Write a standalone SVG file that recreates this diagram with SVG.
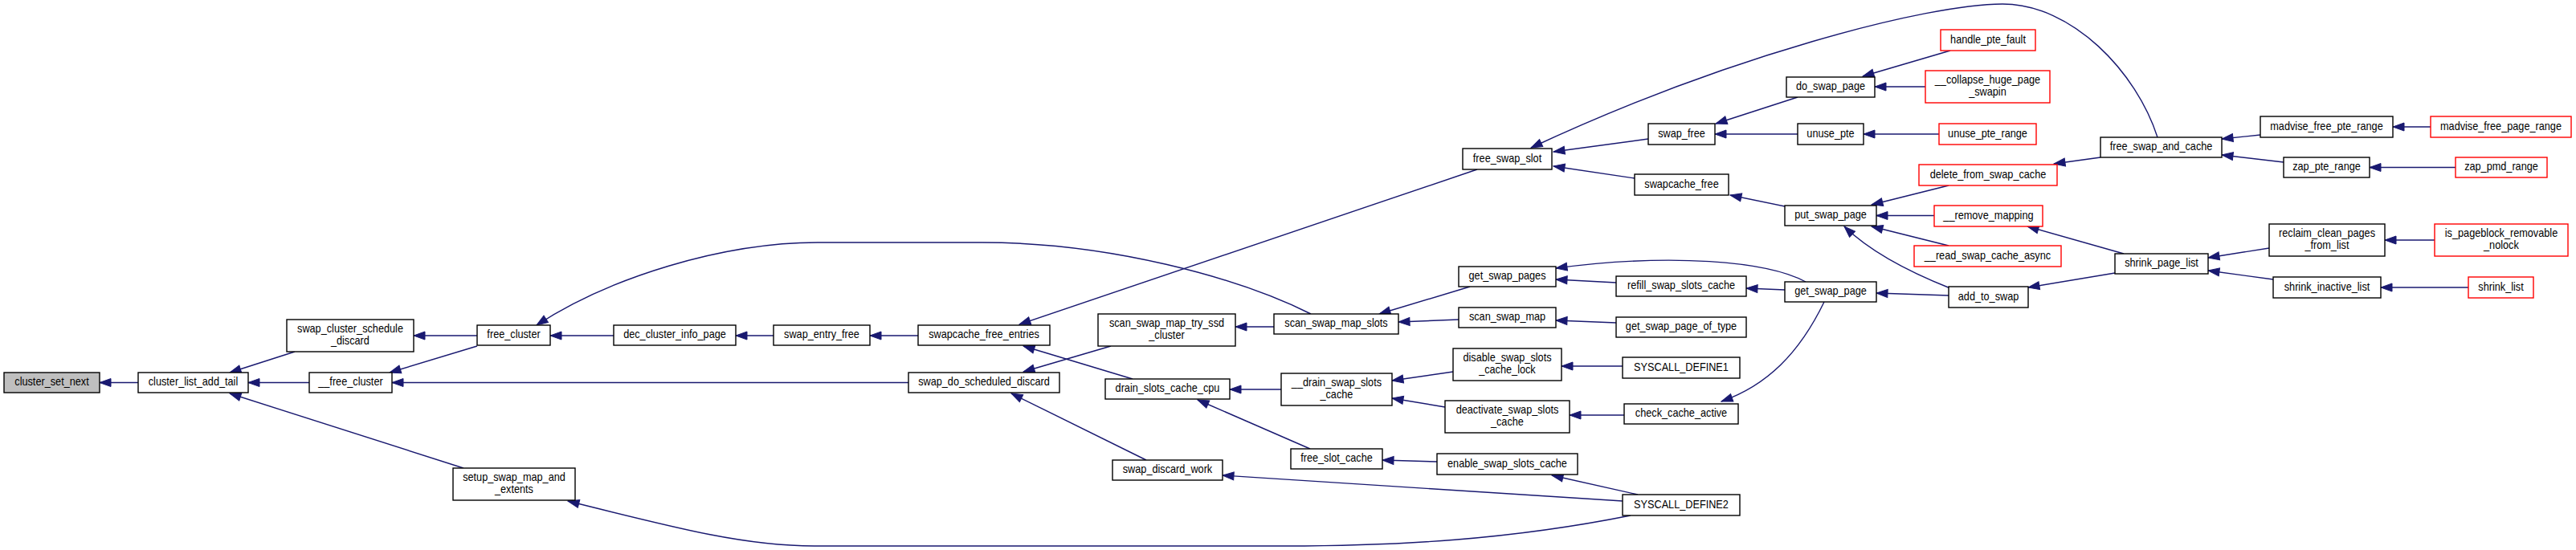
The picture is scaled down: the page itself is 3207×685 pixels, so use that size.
<svg xmlns="http://www.w3.org/2000/svg" width="3207" height="685" viewBox="0 0 3207 685">
<style>
.n rect{fill:#fff;stroke:#000;stroke-width:1.4}
.n.r rect{stroke:#ff0000}
.n.root rect{fill:#bfbfbf}
.n text{font-family:"Liberation Sans",Arial,sans-serif;font-size:14.6px;fill:#000;text-anchor:middle;transform-box:fill-box;transform-origin:center;transform:scaleX(0.87)}
#edges path{fill:none;stroke:#191970;stroke-width:1.4;marker-end:url(#arr)}
</style>
<defs>
<marker id="arr" markerUnits="userSpaceOnUse" markerWidth="15" markerHeight="11" refX="14" refY="5" orient="auto" overflow="visible">
<path d="M0,0 L14,5 L0,10 z" fill="#191970" stroke="#191970" stroke-width="1"/>
</marker>
</defs>
<rect width="3207" height="685" fill="#fff"/>
<g id="edges">
<path d="M172,476.5 L124,476.5"/>
<path d="M367,438 L286,464"/>
<path d="M385,476.5 L309,476.5"/>
<path d="M577,583 L286,490"/>
<path d="M594,418 L515,418"/>
<path d="M594,431 L485,464"/>
<path d="M1131,476.5 L488,476.5"/>
<path d="M764,418 L685,418"/>
<path d="M1632,391 C1540,345 1380,302 1223,302 L1019,302 C900,302 760,345 668,405"/>
<path d="M963,418 L916,418"/>
<path d="M1143,418 L1083,418"/>
<path d="M1839,211 L1269,404"/>
<path d="M1410,472 L1274,431"/>
<path d="M1383,431 L1274,463"/>
<path d="M1427,573 L1259,490"/>
<path d="M2030,642 C1880,672 1740,680 1600,680 L1014,680 C930,680 850,660 707,624"/>
<path d="M1586,407 L1538,407"/>
<path d="M1595,485 L1531,485"/>
<path d="M1631,559 L1491,498"/>
<path d="M2020,624 L1522,592"/>
<path d="M1830,357 L1717,391"/>
<path d="M1816,398 L1741,401"/>
<path d="M1809,463 L1733,474"/>
<path d="M1799,507 L1733,496"/>
<path d="M1789,575 L1721,573"/>
<path d="M2012,352 L1937,348"/>
<path d="M2248,351 C2200,325 2080,315 1937,334"/>
<path d="M2012,402 L1937,399"/>
<path d="M2020,456 L1944,456"/>
<path d="M2022,517 L1954,517"/>
<path d="M2039,616 L1932,592"/>
<path d="M2222,361 L2174,359"/>
<path d="M2271,376 C2240,440 2200,480 2143,500"/>
<path d="M2426,368 L2336,365"/>
<path d="M2052,173 L1934,189"/>
<path d="M2035,222 L1934,207"/>
<path d="M2686,171 C2660,90 2580,5 2493,5 C2400,5 2150,70 1906,184"/>
<path d="M2238,121 L2136,154"/>
<path d="M2238,167 L2135,167"/>
<path d="M2222,257 L2154,243"/>
<path d="M2428,63 L2319,95"/>
<path d="M2397,108 L2334,108"/>
<path d="M2414,167 L2320,167"/>
<path d="M2426,231 L2330,255"/>
<path d="M2408,268.5 L2336,268.5"/>
<path d="M2426,306 L2330,282"/>
<path d="M2428,359 C2380,340 2330,315 2296,282"/>
<path d="M2615,196 L2557,204"/>
<path d="M2814,168 L2766,173"/>
<path d="M2843,202 L2766,193"/>
<path d="M3026,158 L2979,158"/>
<path d="M3057,208.5 L2950,208.5"/>
<path d="M2644,316 L2524,282"/>
<path d="M2633,340 L2525,358"/>
<path d="M2825,309 L2749,321"/>
<path d="M2830,348 L2749,337"/>
<path d="M3031,299 L2969,299"/>
<path d="M3073,358 L2964,358"/>
</g>
<g id="cluster_set_next" class="n root"><rect x="5" y="464" width="119" height="25"/><text x="64.5" y="480.5">cluster_set_next</text></g>
<g id="cluster_list_add_tail" class="n"><rect x="172" y="464" width="137" height="25"/><text x="240.5" y="480.5">cluster_list_add_tail</text></g>
<g id="swap_cluster_schedule_discard" class="n"><rect x="357" y="398" width="158" height="40"/><text x="436" y="414.5">swap_cluster_schedule</text><text x="436" y="429">_discard</text></g>
<g id="__free_cluster" class="n"><rect x="385" y="464" width="103" height="25"/><text x="436.5" y="480.5">__free_cluster</text></g>
<g id="setup_swap_map_and_extents" class="n"><rect x="564" y="583" width="152" height="40"/><text x="640" y="599.5">setup_swap_map_and</text><text x="640" y="614">_extents</text></g>
<g id="free_cluster" class="n"><rect x="594" y="405" width="91" height="25"/><text x="639.5" y="421.5">free_cluster</text></g>
<g id="dec_cluster_info_page" class="n"><rect x="764" y="405" width="152" height="25"/><text x="840" y="421.5">dec_cluster_info_page</text></g>
<g id="swap_entry_free" class="n"><rect x="963" y="405" width="120" height="25"/><text x="1023" y="421.5">swap_entry_free</text></g>
<g id="swapcache_free_entries" class="n"><rect x="1143" y="405" width="164" height="25"/><text x="1225" y="421.5">swapcache_free_entries</text></g>
<g id="swap_do_scheduled_discard" class="n"><rect x="1131" y="464" width="188" height="25"/><text x="1225" y="480.5">swap_do_scheduled_discard</text></g>
<g id="scan_swap_map_try_ssd_cluster" class="n"><rect x="1367" y="391" width="171" height="40"/><text x="1452.5" y="407.5">scan_swap_map_try_ssd</text><text x="1452.5" y="422">_cluster</text></g>
<g id="drain_slots_cache_cpu" class="n"><rect x="1376" y="472" width="155" height="25"/><text x="1453.5" y="488.5">drain_slots_cache_cpu</text></g>
<g id="swap_discard_work" class="n"><rect x="1385" y="573" width="137" height="25"/><text x="1453.5" y="589.5">swap_discard_work</text></g>
<g id="scan_swap_map_slots" class="n"><rect x="1586" y="391" width="155" height="25"/><text x="1663.5" y="407.5">scan_swap_map_slots</text></g>
<g id="__drain_swap_slots_cache" class="n"><rect x="1595" y="465" width="138" height="40"/><text x="1664" y="481.5">__drain_swap_slots</text><text x="1664" y="496">_cache</text></g>
<g id="free_slot_cache" class="n"><rect x="1607" y="559" width="114" height="25"/><text x="1664" y="575.5">free_slot_cache</text></g>
<g id="free_swap_slot" class="n"><rect x="1821" y="185" width="111" height="26"/><text x="1876.5" y="202">free_swap_slot</text></g>
<g id="get_swap_pages" class="n"><rect x="1816" y="332" width="121" height="25"/><text x="1876.5" y="348.5">get_swap_pages</text></g>
<g id="scan_swap_map" class="n"><rect x="1816" y="383" width="121" height="25"/><text x="1876.5" y="399.5">scan_swap_map</text></g>
<g id="disable_swap_slots_cache_lock" class="n"><rect x="1809" y="434" width="135" height="40"/><text x="1876.5" y="450.5">disable_swap_slots</text><text x="1876.5" y="465">_cache_lock</text></g>
<g id="deactivate_swap_slots_cache" class="n"><rect x="1799" y="499" width="155" height="40"/><text x="1876.5" y="515.5">deactivate_swap_slots</text><text x="1876.5" y="530">_cache</text></g>
<g id="enable_swap_slots_cache" class="n"><rect x="1789" y="565" width="175" height="26"/><text x="1876.5" y="582">enable_swap_slots_cache</text></g>
<g id="swap_free" class="n"><rect x="2052" y="154" width="83" height="26"/><text x="2093.5" y="171">swap_free</text></g>
<g id="swapcache_free" class="n"><rect x="2035" y="217" width="117" height="26"/><text x="2093.5" y="234">swapcache_free</text></g>
<g id="refill_swap_slots_cache" class="n"><rect x="2012" y="344" width="162" height="25"/><text x="2093" y="360.5">refill_swap_slots_cache</text></g>
<g id="get_swap_page_of_type" class="n"><rect x="2012" y="395" width="162" height="25"/><text x="2093" y="411.5">get_swap_page_of_type</text></g>
<g id="SYSCALL_DEFINE1" class="n"><rect x="2020" y="445" width="146" height="26"/><text x="2093" y="462">SYSCALL_DEFINE1</text></g>
<g id="check_cache_active" class="n"><rect x="2022" y="503" width="142" height="25"/><text x="2093" y="519.5">check_cache_active</text></g>
<g id="SYSCALL_DEFINE2" class="n"><rect x="2020" y="616" width="146" height="26"/><text x="2093" y="633">SYSCALL_DEFINE2</text></g>
<g id="do_swap_page" class="n"><rect x="2224" y="96" width="110" height="25"/><text x="2279" y="112.5">do_swap_page</text></g>
<g id="unuse_pte" class="n"><rect x="2238" y="154" width="82" height="26"/><text x="2279" y="171">unuse_pte</text></g>
<g id="put_swap_page" class="n"><rect x="2222" y="256" width="114" height="25"/><text x="2279" y="272.5">put_swap_page</text></g>
<g id="get_swap_page" class="n"><rect x="2222" y="351" width="114" height="25"/><text x="2279" y="367.5">get_swap_page</text></g>
<g id="handle_pte_fault" class="n r"><rect x="2416" y="37" width="118" height="26"/><text x="2475" y="54">handle_pte_fault</text></g>
<g id="__collapse_huge_page_swapin" class="n r"><rect x="2397" y="88" width="155" height="40"/><text x="2474.5" y="104.5">__collapse_huge_page</text><text x="2474.5" y="119">_swapin</text></g>
<g id="unuse_pte_range" class="n r"><rect x="2414" y="154" width="121" height="26"/><text x="2474.5" y="171">unuse_pte_range</text></g>
<g id="delete_from_swap_cache" class="n r"><rect x="2389" y="205" width="172" height="26"/><text x="2475" y="222">delete_from_swap_cache</text></g>
<g id="__remove_mapping" class="n r"><rect x="2408" y="256" width="135" height="26"/><text x="2475.5" y="273">__remove_mapping</text></g>
<g id="__read_swap_cache_async" class="n r"><rect x="2383" y="306" width="183" height="26"/><text x="2474.5" y="323">__read_swap_cache_async</text></g>
<g id="add_to_swap" class="n"><rect x="2426" y="357" width="99" height="26"/><text x="2475.5" y="374">add_to_swap</text></g>
<g id="free_swap_and_cache" class="n"><rect x="2615" y="171" width="151" height="25"/><text x="2690.5" y="187.5">free_swap_and_cache</text></g>
<g id="shrink_page_list" class="n"><rect x="2633" y="316" width="116" height="25"/><text x="2691" y="332.5">shrink_page_list</text></g>
<g id="madvise_free_pte_range" class="n"><rect x="2814" y="145" width="165" height="26"/><text x="2896.5" y="162">madvise_free_pte_range</text></g>
<g id="zap_pte_range" class="n"><rect x="2843" y="196" width="107" height="25"/><text x="2896.5" y="212.5">zap_pte_range</text></g>
<g id="reclaim_clean_pages_from_list" class="n"><rect x="2825" y="279" width="144" height="40"/><text x="2897" y="295.5">reclaim_clean_pages</text><text x="2897" y="310">_from_list</text></g>
<g id="shrink_inactive_list" class="n"><rect x="2830" y="345" width="134" height="26"/><text x="2897" y="362">shrink_inactive_list</text></g>
<g id="madvise_free_page_range" class="n r"><rect x="3026" y="145" width="175" height="26"/><text x="3113.5" y="162">madvise_free_page_range</text></g>
<g id="zap_pmd_range" class="n r"><rect x="3057" y="196" width="114" height="25"/><text x="3114" y="212.5">zap_pmd_range</text></g>
<g id="is_pageblock_removable_nolock" class="n r"><rect x="3031" y="279" width="166" height="40"/><text x="3114" y="295.5">is_pageblock_removable</text><text x="3114" y="310">_nolock</text></g>
<g id="shrink_list" class="n r"><rect x="3073" y="345" width="81" height="26"/><text x="3113.5" y="362">shrink_list</text></g>
</svg>
